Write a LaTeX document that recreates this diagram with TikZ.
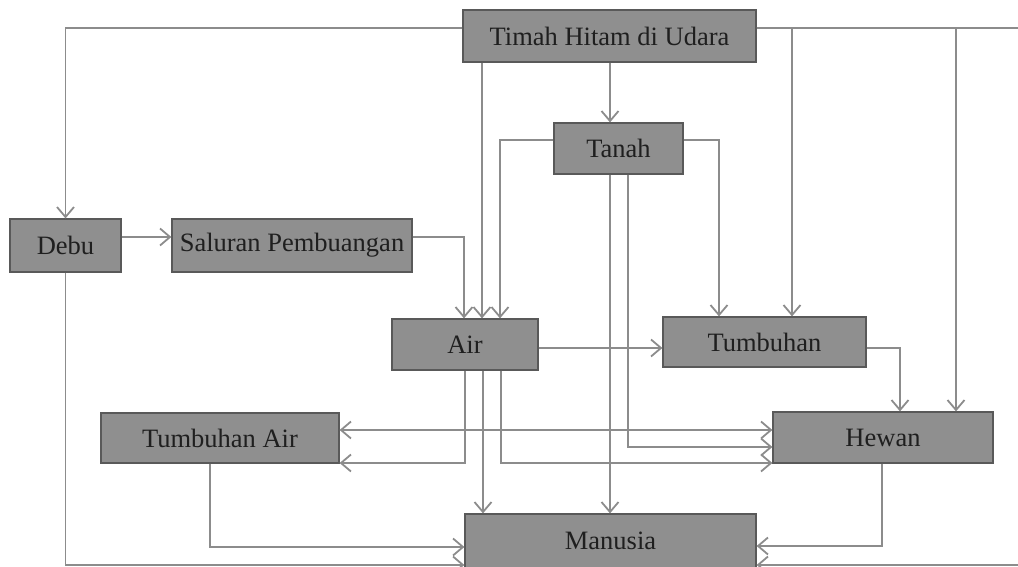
\documentclass[tikz,border=0pt]{standalone}
\usepackage{fontspec}
\setmainfont{Liberation Serif}
\usetikzlibrary{arrows.meta}

\tikzset{
  box/.style={draw=black!65, fill=black!44, line width=1.2pt, inner sep=0pt,
    text=black!88, font=\fontsize{26.5}{30}\selectfont},
  link/.style={draw=black!45, line width=1.8pt,
    -{Straight Barb[length=10pt,width=17pt,line width=1.8pt]}},
  twoway/.style={link, {Straight Barb[length=10pt,width=17pt,line width=1.8pt]}-{Straight Barb[length=10pt,width=17pt,line width=1.8pt]}}
}

\begin{document}
\begin{tikzpicture}[x=1pt,y=-1pt]
                    \useasboundingbox (0,0) rectangle (1018,567);
                    % boxes
                    \node[box, minimum width=293pt, minimum height=52pt] (udara) at (609.5,36) {Timah Hitam di Udara};
                    \node[box, minimum width=129pt, minimum height=51pt] (tanah) at (618.5,148.5) {Tanah};
                    \node[box, minimum width=111pt, minimum height=53pt] (debu) at (65.5,245.5) {Debu};
                    \node[box, minimum width=240pt, minimum height=53pt] (saluran) at (292,245.5) {Saluran Pembuangan};
                    \node[box, minimum width=146pt, minimum height=51pt] (air) at (465,344.5) {Air};
                    \node[box, minimum width=203pt, minimum height=50pt] (tumbuhan) at (764.5,342) {Tumbuhan};
                    \node[box, minimum width=238pt, minimum height=50pt] (tumbair) at (220,438) {Tumbuhan Air};
                    \node[box, minimum width=220pt, minimum height=51pt] (hewan) at (883,437.5) {Hewan};
                    \node[box, minimum width=291pt, minimum height=54pt] (manusia) at (610.5,541) {Manusia};
                    % from the air
                    \draw[link] (udara.west |- 0,28) -| (debu.north);
                    \draw[link] (udara.south -| 482,0) -- (air.north -| 482,0);
                    \draw[link] (udara.south -| 610,0) -- (tanah.north -| 610,0);
                    \draw[link] (udara.east |- 0,28) -| (tumbuhan.north -| 792,0);
                    \draw[link] (udara.east |- 0,28) -| (hewan.north -| 956,0);
                    \draw[link] (udara.east |- 0,28) -- (1030,28) |- (manusia.east |- 0,565);
                    % debu and saluran
                    \draw[link] (debu.east |- 0,237) -- (saluran.west |- 0,237);
                    \draw[link] (debu.south) |- (manusia.west |- 0,565);
                    \draw[link] (saluran.east |- 0,237) -| (air.north -| 464,0);
                    % tanah
                    \draw[link] (tanah.west |- 0,140) -| (air.north -| 500,0);
                    \draw[link] (tanah.east |- 0,140) -| (tumbuhan.north -| 719,0);
                    \draw[link] (tanah.south -| 610,0) -- (manusia.north -| 610,0);
                    \draw[link] (tanah.south -| 628,0) |- (hewan.west |- 0,447);
                    % air
                    \draw[link] (air.east |- 0,348) -- (tumbuhan.west |- 0,348);
                    \draw[link] (air.south -| 465,0) |- (tumbair.east |- 0,463);
                    \draw[link] (air.south -| 483,0) -- (manusia.north -| 483,0);
                    \draw[link] (air.south -| 501,0) |- (hewan.west |- 0,463);
                    % plants and animals
                    \draw[twoway] (tumbair.east |- 0,430) -- (hewan.west |- 0,430);
                    \draw[link] (tumbuhan.east |- 0,348) -| (hewan.north -| 900,0);
                    \draw[link] (tumbair.south -| 210,0) |- (manusia.west |- 0,547);
                    \draw[link] (hewan.south -| 882,0) |- (manusia.east |- 0,546);
                \end{tikzpicture}
\end{document}
